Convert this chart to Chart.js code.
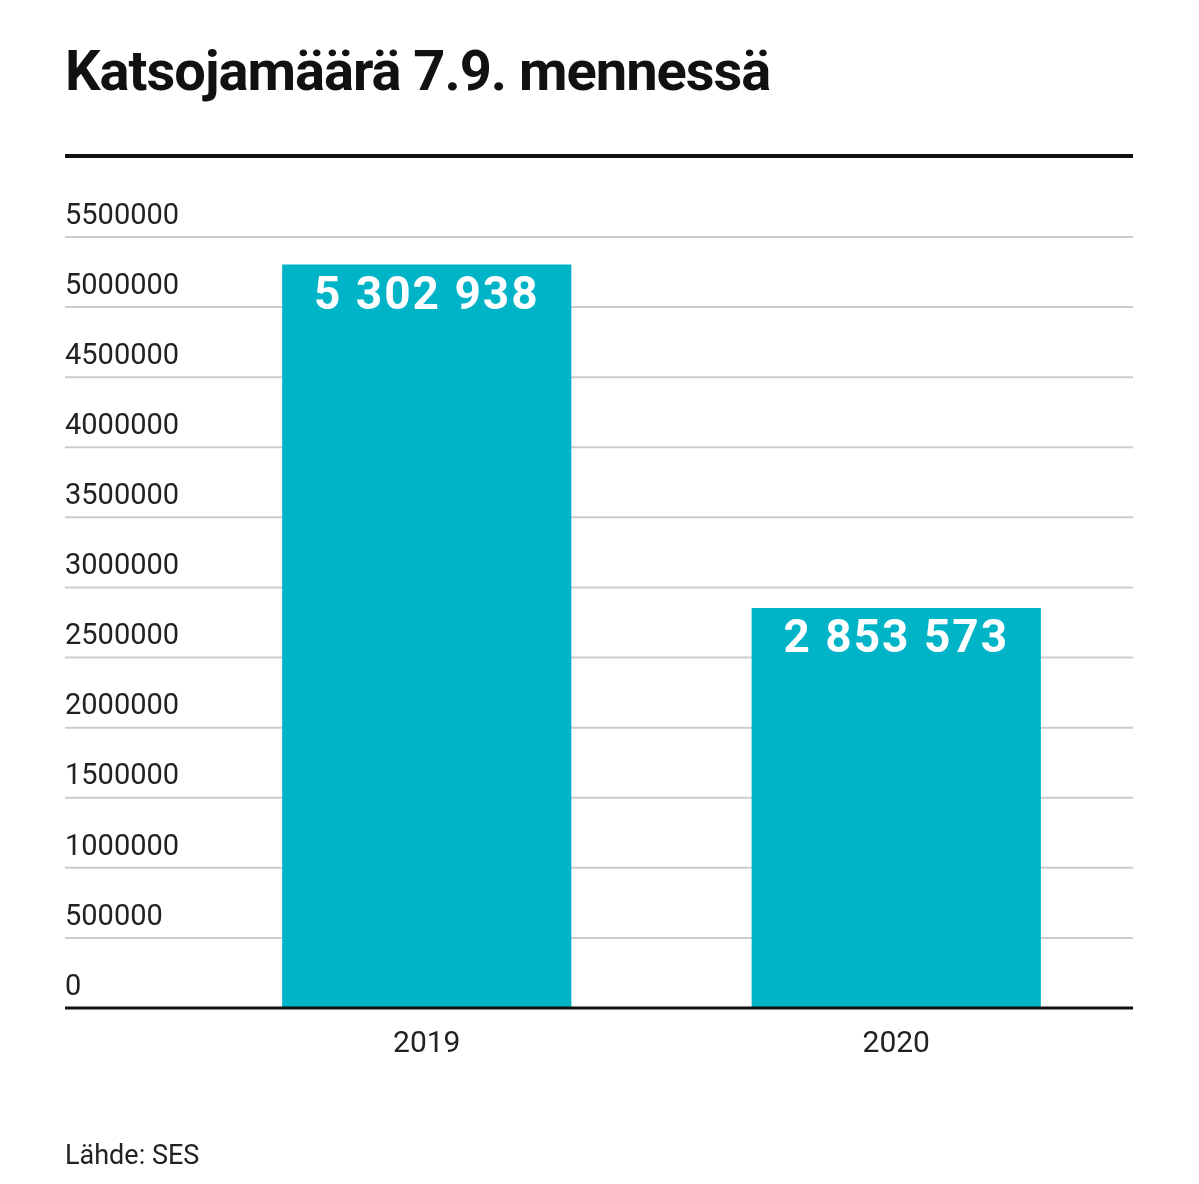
<!DOCTYPE html>
<html>
<head>
<meta charset="utf-8">
<script src="https://cdn.jsdelivr.net/npm/chart.js@4"></script>
<style>
  body { margin: 0; background: #fff; font-family: Roboto, sans-serif; }
  #wrap { position: relative; width: 1199px; height: 1184px; }
  canvas { position: absolute; left: 0; top: 0; }
  h1 { position: absolute; left: 65px; top: 38px; margin: 0; font-size: 56px; font-weight: 700; letter-spacing: -1px; color: #111; }
  #rule { position: absolute; left: 65px; top: 154px; width: 1068px; height: 4px; background: #111; }
  #source { position: absolute; left: 65px; top: 1139px; font-size: 27px; color: #222; }
</style>
</head>
<body>
<div id="wrap">
  <canvas id="chart" width="1199" height="1184"></canvas>
  <h1>Katsojamäärä 7.9. mennessä</h1>
  <div id="rule"></div>
  <div id="source">Lähde: SES</div>
</div>
<script>
// Chart data
const years = ['2019', '2020'];
const viewers = [5302938, 2853573];
const yTicks = [0, 500000, 1000000, 1500000, 2000000, 2500000, 3000000, 3500000, 4000000, 4500000, 5000000, 5500000];

const formatSpaced = v => String(v).replace(/\B(?=(\d{3})+(?!\d))/g, ' ');

// Gridlines + y labels drawn from the y scale, spanning past the chart area to the left
const gridPlugin = {
    id: 'grid',
    beforeDatasetsDraw(chart) {
        const ctx = chart.ctx;
        const y = chart.scales.y;
        ctx.save();
        yTicks.forEach(t => {
            const py = y.getPixelForValue(t);
            if (t !== 0) {
                ctx.strokeStyle = '#cccccc';
                ctx.lineWidth = 2;
                ctx.beginPath();
                ctx.moveTo(65, py);
                ctx.lineTo(1133, py);
                ctx.stroke();
            }
            ctx.fillStyle = '#222';
            ctx.font = '29px Roboto';
            ctx.textBaseline = 'bottom';
            ctx.textAlign = 'left';
            ctx.fillText(String(t), 65, py - 6);
        });
        ctx.restore();
    },
    afterDatasetsDraw(chart) {
        const ctx = chart.ctx;
        const y = chart.scales.y;
        const py = y.getPixelForValue(0);
        ctx.save();
        ctx.strokeStyle = '#111';
        ctx.lineWidth = 3;
        ctx.beginPath();
        ctx.moveTo(65, py);
        ctx.lineTo(1133, py);
        ctx.stroke();
        // value labels inside bar tops
        const meta = chart.getDatasetMeta(0);
        ctx.fillStyle = '#fff';
        ctx.font = 'bold 46px Roboto';
        ctx.textAlign = 'center';
        ctx.textBaseline = 'middle';
        ctx.letterSpacing = '2px';
        meta.data.forEach((bar, i) => {
            ctx.fillText(formatSpaced(viewers[i]), bar.x, bar.y + 33);
        });
        ctx.restore();
    }
};

new Chart(document.getElementById('chart'), {
    type: 'bar',
    data: {
        labels: years,
        datasets: [{
            data: viewers,
            backgroundColor: '#00b4c8',
            barPercentage: 0.616,
            categoryPercentage: 1
        }]
    },
    options: {
        responsive: false,
        animation: false,
        devicePixelRatio: 1,
        layout: { padding: { left: 192, right: 68, top: 237, bottom: 112 } },
        plugins: { legend: { display: false }, tooltip: { enabled: false } },
        scales: {
            y: { display: false, min: 0, max: 5500000 },
            x: {
                grid: { display: false },
                border: { display: false },
                ticks: { color: '#222', font: { family: 'Roboto', size: 30 }, padding: 10 }
            }
        }
    },
    plugins: [gridPlugin]
});
</script>
</body>
</html>
